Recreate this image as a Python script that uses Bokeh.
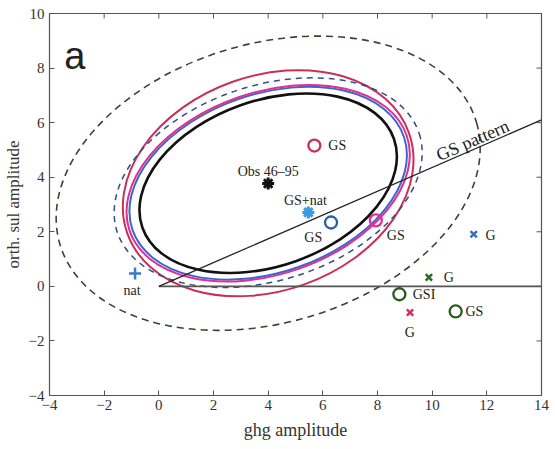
import math
from bokeh.plotting import figure
from bokeh.models import Range1d, FixedTicker, ColumnDataSource
from bokeh.core.properties import value
from bokeh.embed import file_html
from bokeh.resources import INLINE

# ---------------- data ----------------
x_lim = [-4, 14]
y_lim = [-4, 10]
x_ticks = [-4, -2, 0, 2, 4, 6, 8, 10, 12, 14]
y_ticks = [-4, -2, 0, 2, 4, 6, 8, 10]

# ellipses (centre on observation), semi-axes and tilt in degrees
ell_names = ["black", "blue", "magenta", "red", "blue dashed", "green dashed"]
ell_cx = [4.0, 4.0, 4.0, 4.0, 4.0, 4.0]
ell_cy = [3.78, 3.78, 3.78, 3.78, 3.8, 3.78]
ell_a = [4.88, 5.25, 5.36, 5.47, 5.81, 7.94]
ell_b = [3.03, 3.27, 3.33, 3.94, 3.57, 5.12]
ell_tilt = [19.5, 19.0, 19.0, 19.7, 18.0, 16.2]
ell_color = ["#111111", "#3a66d0", "#e0308f", "#c8305a", "#2f4f86", "#2f4a2a"]
ell_width = [2.6, 2.0, 2.0, 2.0, 1.5, 1.6]
ell_dash = ["solid", "solid", "solid", "solid", "6 5", "7 5"]

# GS pattern line and zero line
gs_x = [0, 14]
gs_y = [0, 6.1]
zero_x = [0, 14]
zero_y = [0, 0]

# points
obs_x, obs_y = [4.0], [3.77]
gsnat_x, gsnat_y = [5.47], [2.71]
circ_x = [5.69, 6.3, 7.94, 8.8, 10.86]
circ_y = [5.16, 2.34, 2.42, -0.29, -0.92]
circ_c = ["#c8305a", "#2a5fb0", "#e0309a", "#2a5a20", "#2a5a20"]
xm_x = [11.52, 9.88, 9.19]
xm_y = [1.91, 0.33, -0.96]
xm_c = ["#3a6fc0", "#2a6a2a", "#d8305a"]
nat_x, nat_y = [-0.87], [0.47]

# labels
lab_c_text = ["Obs 46\u201395", "GS+nat", "GS", "GS", "nat", "G"]
lab_c_x = [4.0, 5.36, 5.65, 8.67, -0.98, 9.18]
lab_c_y = [4.2, 3.15, 1.8, 1.87, -0.15, -1.69]
lab_l_text = ["GS", "G", "G", "GSI", "GS"]
lab_l_x = [6.2, 11.95, 10.42, 9.29, 11.22]
lab_l_y = [5.16, 1.87, 0.33, -0.29, -0.92]
pat_text, pat_x, pat_y, pat_angle = ["GS pattern"], [11.48], [5.35], [23.5]
panel_text, panel_x, panel_y = ["a"], [-3.46], [8.46]

# ---------------- figure ----------------
SERIF = "Liberation Serif"
p = figure(width=555, height=449, x_range=Range1d(*x_lim), y_range=Range1d(*y_lim),
           output_backend="svg", toolbar_location=None,
           min_border_left=47, min_border_right=14, min_border_top=13, min_border_bottom=54)
p.xgrid.visible = False
p.ygrid.visible = False
p.outline_line_color = "#555555"
p.outline_line_width = 1.2

def style_axis(ax, ticks):
    ax.ticker = FixedTicker(ticks=ticks)
    ax.major_tick_in = 5
    ax.major_tick_out = 0
    ax.minor_tick_line_color = None
    ax.axis_line_color = "#555555"
    ax.major_tick_line_color = "#555555"
    ax.major_label_text_font = SERIF
    ax.major_label_text_color = "#333333"
    ax.major_label_text_font_size = "15px"
    ax.major_label_overrides = {t: (str(t).replace("-", "\u2212")) for t in ticks}
    ax.axis_label_text_font = SERIF
    ax.axis_label_text_font_style = "normal"
    ax.axis_label_text_color = "#333333"

style_axis(p.xaxis[0], x_ticks)
style_axis(p.yaxis[0], y_ticks)
p.xaxis.axis_label = "ghg amplitude"
p.xaxis.axis_label_text_font_size = "18px"
p.xaxis.axis_label_standoff = 7
p.xaxis.major_label_standoff = 4
p.yaxis.axis_label = "orth. sul amplitude"
p.yaxis.axis_label_text_font_size = "17px"
p.yaxis.axis_label_standoff = 3
p.yaxis.major_label_standoff = 5

# inward ticks on the top and right frame edges (clipped to the frame)
p.scatter(x_ticks, [y_lim[1]] * len(x_ticks), marker="dash", angle=math.pi / 2,
          size=10, line_color="#555555", line_width=1)
p.scatter([x_lim[1]] * len(y_ticks), y_ticks, marker="dash",
          size=10, line_color="#555555", line_width=1)

# ellipses
for i in range(len(ell_names)):
    p.ellipse(x=ell_cx[i], y=ell_cy[i], width=2 * ell_a[i], height=2 * ell_b[i],
              angle=math.radians(ell_tilt[i]), fill_color=None,
              line_color=ell_color[i], line_width=ell_width[i], line_dash=ell_dash[i])

# lines
p.line(zero_x, zero_y, line_color="#555555", line_width=1.8)
p.line(gs_x, gs_y, line_color="#222222", line_width=1.3)

# markers
p.scatter(obs_x, obs_y, marker="asterisk", size=12, line_width=3, line_color="#111111")
p.scatter(obs_x, obs_y, marker="circle", size=6, fill_color="#111111", line_color=None)
p.scatter(gsnat_x, gsnat_y, marker="asterisk", size=12, line_width=3, line_color="#3a9ae0")
p.scatter(gsnat_x, gsnat_y, marker="circle", size=6, fill_color="#3a9ae0", line_color=None)
src_c = ColumnDataSource(dict(x=circ_x, y=circ_y, c=circ_c))
p.scatter("x", "y", source=src_c, marker="circle", size=12, fill_color=None,
          line_color="c", line_width=2.3)
src_x = ColumnDataSource(dict(x=xm_x, y=xm_y, c=xm_c))
p.scatter("x", "y", source=src_x, marker="x", size=9, line_color="c", line_width=2.5)
p.scatter(nat_x, nat_y, marker="cross", size=12, line_color="#3a7ac8", line_width=2.5)

# labels
p.text(lab_c_x, lab_c_y, text=lab_c_text, text_font=value(SERIF), text_font_size="14px",
       text_align="center", text_baseline="middle", text_color="#222222")
p.text(lab_l_x, lab_l_y, text=lab_l_text, text_font=value(SERIF), text_font_size="14px",
       text_align="left", text_baseline="middle", text_color="#222222")
p.text(pat_x, pat_y, text=pat_text, angle=[math.radians(a) for a in pat_angle],
       text_font=value(SERIF), text_font_size="18px", text_align="center",
       text_baseline="middle", text_color="#222222")
p.text(panel_x, panel_y, text=panel_text, text_font=value("Liberation Sans"),
       text_font_size="38px", text_align="left", text_baseline="alphabetic",
       text_color="#222222")

open("out.html", "w").write(file_html(p, INLINE))
